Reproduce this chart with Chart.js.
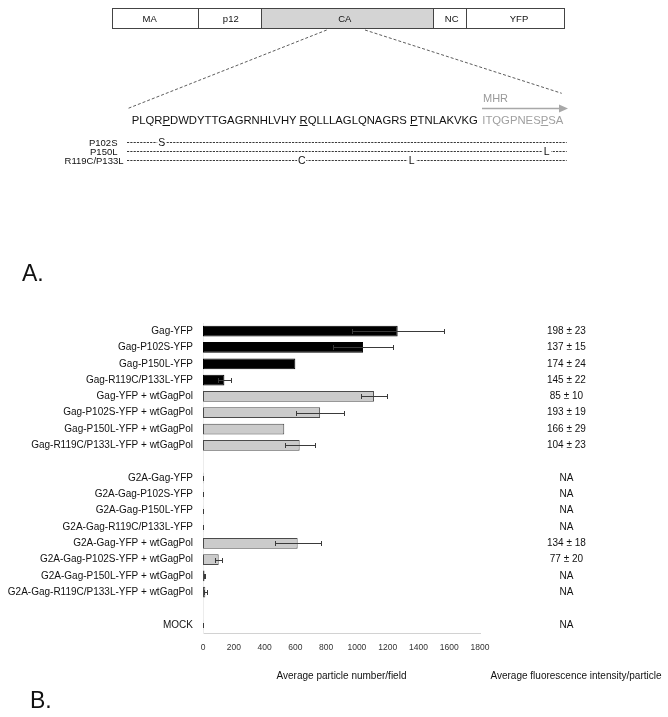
<!DOCTYPE html>
<html><head><meta charset="utf-8">
<script src="https://cdn.jsdelivr.net/npm/chart.js@4.4.1/dist/chart.umd.min.js"></script>
<style>
html,body{margin:0;padding:0;background:#fff;}
#wrap{position:relative;width:668px;height:717px;overflow:hidden;font-family:"Liberation Sans",Arial,sans-serif;color:#111;}
#chartBox{position:absolute;left:0;top:300px;width:668px;height:417px;}
.t{position:absolute;white-space:pre;line-height:1;}
#seq u{text-decoration:underline;text-underline-offset:1px;}
</style></head><body>
<div id="wrap">
<div id="chartBox"><canvas id="c" width="668" height="417"></canvas></div>
<svg id="diagram" width="668" height="717" style="position:absolute;left:0;top:0" font-family="Liberation Sans, Arial, sans-serif">
  <rect x="262" y="9" width="171" height="19" fill="#d4d4d4"/>
  <rect x="112.5" y="8.5" width="452" height="20" fill="none" stroke="#444" stroke-width="1"/>
  <line x1="198.5" y1="8.5" x2="198.5" y2="28.5" stroke="#444"/>
  <line x1="261.5" y1="8.5" x2="261.5" y2="28.5" stroke="#444"/>
  <line x1="433.5" y1="8.5" x2="433.5" y2="28.5" stroke="#444"/>
  <line x1="466.5" y1="8.5" x2="466.5" y2="28.5" stroke="#444"/>
  <g font-size="9.5" text-anchor="middle" fill="#111">
    <text x="149.7" y="21.7">MA</text>
    <text x="230.8" y="21.7">p12</text>
    <text x="344.8" y="21.7">CA</text>
    <text x="451.7" y="21.7">NC</text>
    <text x="519" y="21.7">YFP</text>
  </g>
  <line x1="326.7" y1="30" x2="128.3" y2="108.3" stroke="#333" stroke-width="0.8" stroke-dasharray="3 2"/>
  <line x1="365" y1="30" x2="561.7" y2="93.3" stroke="#333" stroke-width="0.8" stroke-dasharray="3 2"/>
  <text x="483" y="102.2" font-size="11" fill="#9a9a9a">MHR</text>
  <line x1="482" y1="108.5" x2="561" y2="108.5" stroke="#a8a8a8" stroke-width="1.5"/>
  <polygon points="559,104.5 568,108.5 559,112.5" fill="#a8a8a8"/>
  <g id="mut" font-size="9.5" fill="#111"></g>
  <text x="22" y="281" font-size="23" fill="#111">A.</text>
  <text x="30" y="708" font-size="23" fill="#111">B.</text>
  <text x="576" y="678.5" font-size="10" text-anchor="middle" fill="#111">Average fluorescence intensity/particle</text>
</svg>
<div class="t" id="seq" style="left:131.7px;top:114.5px;font-size:11.3px;color:#111">PLQR<u>P</u>DWDYTTGAGRNHLVHY <u>R</u>QLLLAGLQNAGRS <u>P</u>TNLAKVKG</div>
<div class="t" style="left:482.3px;top:114.5px;font-size:11.3px;color:#a0a0a0">ITQGPNES<u>P</u>SA</div>
</div>
<script>
// ---- data ----
const categories = ['Gag-YFP','Gag-P102S-YFP','Gag-P150L-YFP','Gag-R119C/P133L-YFP',
  'Gag-YFP + wtGagPol','Gag-P102S-YFP + wtGagPol','Gag-P150L-YFP + wtGagPol','Gag-R119C/P133L-YFP + wtGagPol',
  '',
  'G2A-Gag-YFP','G2A-Gag-P102S-YFP','G2A-Gag-P150L-YFP','G2A-Gag-R119C/P133L-YFP',
  'G2A-Gag-YFP + wtGagPol','G2A-Gag-P102S-YFP + wtGagPol','G2A-Gag-P150L-YFP + wtGagPol','G2A-Gag-R119C/P133L-YFP + wtGagPol',
  '',
  'MOCK'];
const particles   = [1265,1040,600,139,1111,761,528,628,null,2,1,1,1,615,102,10,15,null,1];
const particleErr = [300,195,0,44,86,155,0,97,null,1,1,1,1,150,24,4,8,null,1];
const intensity = ['198 ± 23','137 ± 15','174 ± 24','145 ± 22','85 ± 10','193 ± 19','166 ± 29','104 ± 23','',
  'NA','NA','NA','NA','134 ± 18','77 ± 20','NA','NA','','NA'];
const xTicks = [0,200,400,600,800,1000,1200,1400,1600,1800];
const mutants = ['P102S','P150L','R119C/P133L'];
const mutantResidues = [['S'],['L'],['C','L']];

// ---- mutant rows in the diagram ----
(function(){
  const NS='http://www.w3.org/2000/svg', g=document.getElementById('mut');
  const rowY=[142.5,151.5,160.5], labelEnd=[117.5,117.5,123.5], letterX=[[161.7],[546.7],[301.7,411.7]];
  mutants.forEach((m,i)=>{
    const y=rowY[i];
    const t=document.createElementNS(NS,'text');
    t.setAttribute('x',labelEnd[i]); t.setAttribute('y',y+3.4); t.setAttribute('text-anchor','end'); t.textContent=m; g.appendChild(t);
    const l=document.createElementNS(NS,'line');
    l.setAttribute('x1',127); l.setAttribute('x2',566.7); l.setAttribute('y1',y); l.setAttribute('y2',y);
    l.setAttribute('stroke','#222'); l.setAttribute('stroke-width','0.9'); l.setAttribute('stroke-dasharray','2.2 1.1');
    g.appendChild(l);
    mutantResidues[i].forEach((r,j)=>{
      const x=letterX[i][j];
      const rc=document.createElementNS(NS,'rect');
      rc.setAttribute('x',x-4.5); rc.setAttribute('y',y-4); rc.setAttribute('width',9); rc.setAttribute('height',8); rc.setAttribute('fill','#fff');
      g.appendChild(rc);
      const tt=document.createElementNS(NS,'text');
      tt.setAttribute('x',x); tt.setAttribute('y',y+3.8); tt.setAttribute('text-anchor','middle'); tt.setAttribute('font-size','10.5');
      tt.textContent=r; g.appendChild(tt);
    });
  });
})();

// ---- error bars plugin ----
const errorBars = {
  id:'errorBars',
  afterDatasetsDraw(chart){
    const ctx=chart.ctx, xs=chart.scales.x, meta=chart.getDatasetMeta(0);
    ctx.save(); ctx.strokeStyle='#3a3a3a'; ctx.lineWidth=1;
    meta.data.forEach((bar,i)=>{
      const v=particles[i], e=particleErr[i];
      if(v==null||!e) return;
      const y=Math.round(bar.y)+0.5;
      const x1=Math.round(xs.getPixelForValue(Math.max(0,v-e)))+0.5, x2=Math.round(xs.getPixelForValue(v+e))+0.5;
      ctx.beginPath();
      ctx.moveTo(x1,y); ctx.lineTo(x2,y);
      ctx.moveTo(x1,y-2.5); ctx.lineTo(x1,y+2.5);
      ctx.moveTo(x2,y-2.5); ctx.lineTo(x2,y+2.5);
      ctx.stroke();
    });
    ctx.restore();
  }
};

const withPol = categories.map(c=>c.includes('wtGagPol'));
const noPad = s=>{s.paddingTop=0;s.paddingBottom=0;};
new Chart(document.getElementById('c'),{
  type:'bar',
  data:{labels:categories,datasets:[{
    data:particles,
    backgroundColor:withPol.map(w=>w?'#cbcbcb':'#000'),
    borderColor:withPol.map(w=>w?'#4a4a4a':'#000'),
    borderWidth:1,
    borderSkipped:false,
    barPercentage:0.66,
    categoryPercentage:1
  }]},
  options:{
    indexAxis:'y',
    responsive:false,
    animation:false,
    layout:{padding:{top:23,left:0,right:0,bottom:0}},
    plugins:{legend:{display:false},tooltip:{enabled:false}},
    scales:{
      x:{
        type:'linear',min:0,max:1800,
        afterBuildTicks(s){s.ticks=xTicks.map(v=>({value:v}));},
        afterFit(s){s.height=84;},
        grid:{display:false,drawTicks:false},
        border:{display:true,color:'#d2d2d2',width:1},
        ticks:{font:{family:'Liberation Sans',size:8.5},color:'#333',padding:10,maxRotation:0,autoSkip:false,callback:v=>String(v)},
        title:{display:true,text:'Average particle number/field',font:{family:'Liberation Sans',size:10},color:'#111',padding:{top:0,bottom:35}}
      },
      y:{
        type:'category',offset:true,
        afterFit(s){s.width=203;noPad(s);},
        grid:{display:false,drawTicks:false},
        border:{display:true,color:'#ececec',width:1},
        ticks:{font:{family:'Liberation Sans',size:10},color:'#111',padding:10,autoSkip:false}
      },
      y2:{
        type:'category',position:'right',offset:true,labels:intensity,
        afterFit(s){s.width=188;noPad(s);},
        grid:{display:false,drawTicks:false},
        border:{display:false},
        ticks:{font:{family:'Liberation Sans',size:10},color:'#111',padding:67,crossAlign:'center',autoSkip:false}
      }
    }
  },
  plugins:[errorBars]
});
</script>
</body></html>
